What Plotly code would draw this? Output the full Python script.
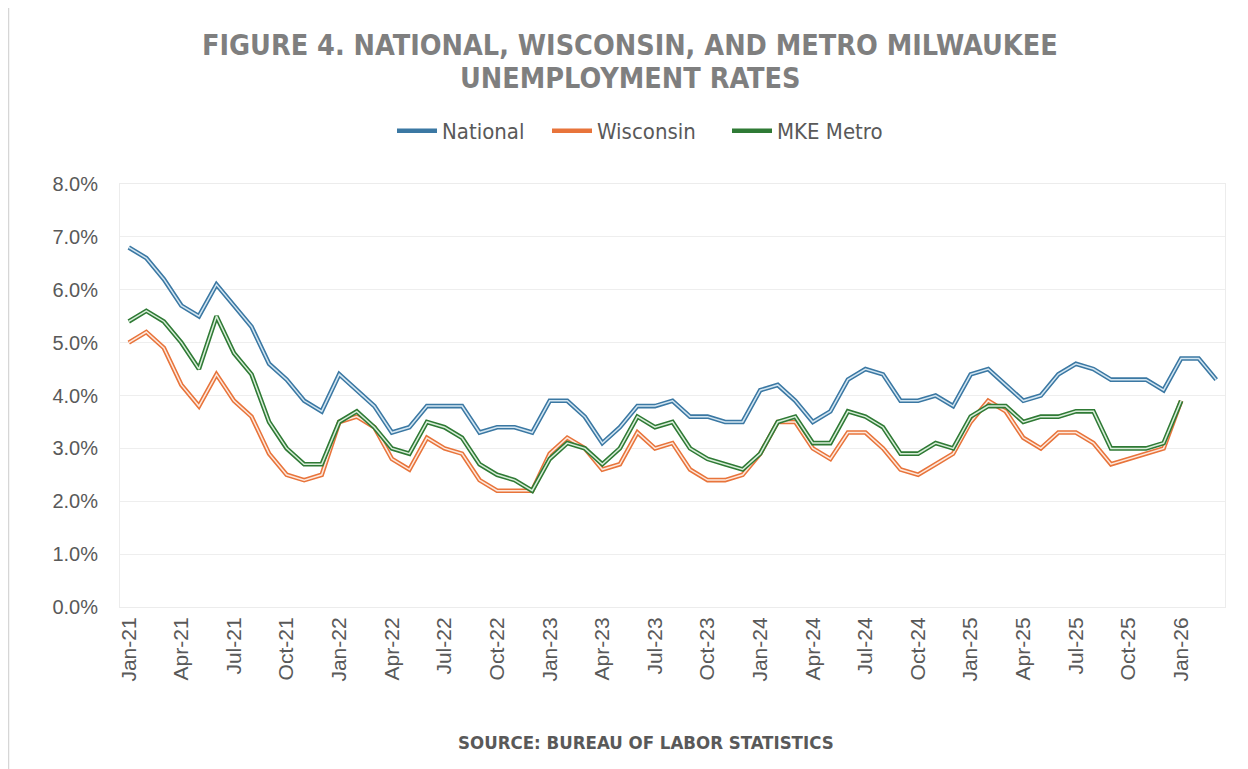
import pandas as pd
import plotly.graph_objects as go

months = [d.strftime("%b-%y") for d in pd.date_range("2021-01-01", periods=63, freq="MS")]

national = [6.8, 6.6, 6.2, 5.7, 5.5, 6.1, 5.7, 5.3, 4.6, 4.3, 3.9, 3.7,
            4.4, 4.1, 3.8, 3.3, 3.4, 3.8, 3.8, 3.8, 3.3, 3.4, 3.4, 3.3,
            3.9, 3.9, 3.6, 3.1, 3.4, 3.8, 3.8, 3.9, 3.6, 3.6, 3.5, 3.5,
            4.1, 4.2, 3.9, 3.5, 3.7, 4.3, 4.5, 4.4, 3.9, 3.9, 4.0, 3.8,
            4.4, 4.5, 4.2, 3.9, 4.0, 4.4, 4.6, 4.5, 4.3, 4.3, 4.3, 4.1,
            4.7, 4.7, 4.3]

wisconsin = [5.0, 5.2, 4.9, 4.2, 3.8, 4.4, 3.9, 3.6, 2.9, 2.5, 2.4, 2.5,
             3.5, 3.6, 3.4, 2.8, 2.6, 3.2, 3.0, 2.9, 2.4, 2.2, 2.2, 2.2,
             2.9, 3.2, 3.0, 2.6, 2.7, 3.3, 3.0, 3.1, 2.6, 2.4, 2.4, 2.5,
             2.9, 3.5, 3.5, 3.0, 2.8, 3.3, 3.3, 3.0, 2.6, 2.5, 2.7, 2.9,
             3.5, 3.9, 3.7, 3.2, 3.0, 3.3, 3.3, 3.1, 2.7, 2.8, 2.9, 3.0,
             3.9]

mke_metro = [5.4, 5.6, 5.4, 5.0, 4.5, 5.5, 4.8, 4.4, 3.5, 3.0, 2.7, 2.7,
             3.5, 3.7, 3.4, 3.0, 2.9, 3.5, 3.4, 3.2, 2.7, 2.5, 2.4, 2.2,
             2.8, 3.1, 3.0, 2.7, 3.0, 3.6, 3.4, 3.5, 3.0, 2.8, 2.7, 2.6,
             2.9, 3.5, 3.6, 3.1, 3.1, 3.7, 3.6, 3.4, 2.9, 2.9, 3.1, 3.0,
             3.6, 3.8, 3.8, 3.5, 3.6, 3.6, 3.7, 3.7, 3.0, 3.0, 3.0, 3.1,
             3.9]

series = [
    ("National", national, "#3b78a3", "#d3e6f2", "legend"),
    ("Wisconsin", wisconsin, "#e8743b", "#fde9de", "legend2"),
    ("MKE Metro", mke_metro, "#2f7a35", "#d9eeda", "legend3"),
]

fig = go.Figure()
for name, vals, outer, inner, leg in series:
    x = months[:len(vals)]
    fig.add_trace(go.Scatter(x=x, y=vals, mode="lines", name=name,
                             line=dict(color=outer, width=4.6),
                             legend=leg, legendgroup=name, hoverinfo="skip"))
    fig.add_trace(go.Scatter(x=x, y=vals, mode="lines", name=name,
                             line=dict(color=inner, width=1.5),
                             legend=leg, legendgroup=name, showlegend=False))

# page coordinates of plot area: x 120..1225, y 184..607
def px_x(p):
    return (p - 120) / 1105.0

def px_y(p):
    return (607 - p) / 423.0

title_font = dict(family="DejaVu Sans Condensed", size=28.5, color="#7f7f7f")
legend_font = dict(family="DejaVu Sans Condensed", size=22, color="#595959")

def legend_at(page_x):
    return dict(orientation="h", x=px_x(page_x), xanchor="left",
                y=px_y(131), yanchor="middle", font=legend_font,
                bgcolor="rgba(0,0,0,0)", itemwidth=40, tracegroupgap=0)

fig.update_layout(
    width=1248, height=769,
    margin=dict(l=112, r=31, t=176, b=170),
    paper_bgcolor="white", plot_bgcolor="white",
    showlegend=True,
    legend=legend_at(392),
    legend2=legend_at(547),
    legend3=legend_at(727),
    annotations=[
        dict(text="<b>FIGURE 4. NATIONAL, WISCONSIN, AND METRO MILWAUKEE</b>",
             x=px_x(630), y=px_y(45), xref="paper", yref="paper",
             xanchor="center", yanchor="middle", showarrow=False, font=title_font),
        dict(text="<b>UNEMPLOYMENT RATES</b>",
             x=px_x(630), y=px_y(79), xref="paper", yref="paper",
             xanchor="center", yanchor="middle", showarrow=False, font=title_font),
        dict(text="<b>SOURCE: BUREAU OF LABOR STATISTICS</b>",
             x=px_x(646), y=px_y(742), xref="paper", yref="paper",
             xanchor="center", yanchor="middle", showarrow=False,
             font=dict(family="DejaVu Sans Condensed", size=18.5, color="#595959")),
    ],
    shapes=[
        dict(type="line", xref="paper", yref="paper",
             x0=px_x(8.5), x1=px_x(8.5), y0=px_y(0), y1=px_y(769),
             line=dict(color="#d6d6d6", width=1.5)),
    ],
)

fig.update_xaxes(
    type="category", categoryorder="array", categoryarray=months,
    range=[-0.5, len(months) - 0.5],
    tickvals=months[::3], ticktext=months[::3],
    tickangle=-90, ticklabelstandoff=1,
    tickfont=dict(family="Liberation Sans", size=21, color="#595959"),
    showgrid=False, showline=True, linecolor="#ececec", linewidth=1, mirror=True,
    zeroline=False, ticks="",
)
fig.update_yaxes(
    range=[0, 8], dtick=1, tickformat=".1f", ticksuffix="%",
    tickfont=dict(family="Liberation Sans", size=20, color="#595959"),
    ticklabelstandoff=17,
    showgrid=True, gridcolor="#eeeeee", gridwidth=1,
    showline=True, linecolor="#ececec", linewidth=1, mirror=True,
    zeroline=False, ticks="",
)

fig.write_html("out.html")
